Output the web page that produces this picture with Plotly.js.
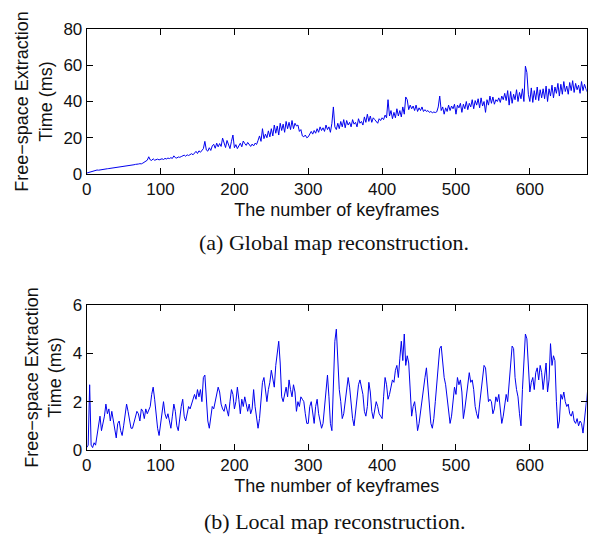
<!DOCTYPE html>
<html>
<head>
<meta charset="utf-8">
<script src="https://cdn.plot.ly/plotly-3.0.1.min.js"></script>
<style>html,body{margin:0;padding:0;background:#fff;}#chart{width:608px;height:540px;}</style>
</head>
<body>
<div id="chart"></div>
<script>
// Keyframe sampling step (values read every 2 keyframes)
const KEYFRAME_STEP = 2;

// (a) Global map reconstruction: free-space extraction time (ms)
const globalTimes = [
 0.5,0.8,1.0,1.3,1.6,1.8,2.0,2.2,2.1,2.3,
 2.4,2.5,2.6,2.7,2.9,3.0,3.1,3.2,3.3,3.4,
 3.5,3.6,3.8,3.9,4.0,4.2,4.4,4.3,4.6,4.7,
 4.9,5.0,5.1,5.3,5.2,5.5,5.7,5.6,6.0,6.4,
 7.0,7.6,9.5,7.8,7.5,8.4,7.6,7.9,8.2,7.8,
 8.1,8.4,8.0,8.6,8.3,8.8,8.5,9.0,8.6,10.0,
 9.0,8.8,9.4,9.2,9.6,9.9,10.4,9.8,10.6,10.2,
 10.8,11.2,10.6,11.9,12.5,11.3,12.8,12.0,13.2,14.0,
 18.0,13.2,12.6,14.5,13.0,15.5,16.4,14.2,17.0,15.0,
 16.8,15.2,19.8,17.0,14.6,18.5,16.0,14.0,18.0,21.5,
 14.5,16.2,14.0,15.8,17.0,15.0,18.2,16.8,15.8,17.4,
 16.0,15.2,16.5,15.5,17.0,16.3,18.5,21.0,18.0,25.0,
 19.5,22.0,20.0,23.8,20.5,25.0,21.0,27.0,22.5,26.5,
 21.5,28.0,24.0,27.5,23.0,29.0,25.0,28.5,24.5,29.5,
 25.0,28.0,26.5,27.0,23.5,24.5,21.0,20.5,21.5,20.0,
 20.5,22.0,23.5,22.0,24.0,22.5,25.0,23.0,26.0,24.0,
 25.5,23.5,27.0,24.5,26.0,23.0,28.0,37.0,26.0,24.5,
 28.0,25.0,29.0,26.0,30.0,25.5,29.5,27.0,28.5,26.0,
 30.0,27.5,28.5,26.0,30.5,28.0,29.0,27.0,31.5,28.5,
 33.0,29.0,32.0,28.5,31.0,30.0,29.0,28.0,30.5,29.5,
 31.0,30.0,32.5,31.0,41.0,32.0,35.0,30.5,34.0,31.0,
 36.0,32.0,35.0,31.5,37.0,33.0,42.5,41.0,35.5,38.0,
 36.0,37.5,35.0,38.0,34.5,36.5,35.0,37.0,34.5,35.5,
 34.5,35.0,34.0,34.5,33.8,34.2,33.9,34.3,37.0,43.0,
 35.0,37.0,33.0,36.5,34.5,38.0,35.0,37.5,36.0,38.5,
 33.0,38.0,36.5,39.0,34.0,38.5,36.0,40.0,35.5,39.0,
 37.0,41.0,36.0,40.5,38.0,41.5,36.5,42.0,37.5,40.0,
 34.0,41.0,38.0,43.0,39.0,42.5,38.5,41.0,40.0,42.0,
 39.5,43.0,41.0,44.5,40.5,46.0,38.0,45.5,39.0,44.0,
 41.0,46.5,40.0,45.0,41.5,47.0,40.0,59.5,56.0,44.0,
 40.0,47.5,39.5,46.0,41.0,48.0,40.5,46.5,42.0,47.0,
 41.5,48.5,40.0,47.0,43.0,49.0,42.0,48.0,44.5,50.0,
 43.0,49.5,44.0,51.0,45.5,48.5,44.0,50.5,46.0,51.5,
 45.0,50.0,46.5,49.0,44.5,51.0,46.0,49.5,47.0,45.0
];

// (b) Local map reconstruction: free-space extraction time (ms)
const localTimes = [
 0.1,0.2,2.7,0.2,0.1,0.3,0.2,0.6,1.0,1.4,
 0.8,1.1,1.4,1.9,1.5,1.7,1.2,1.6,1.2,0.9,
 0.5,1.1,1.2,0.8,0.6,1.0,1.5,1.9,1.6,1.2,
 0.9,0.9,1.1,1.3,1.6,1.5,1.2,1.7,1.6,1.3,
 1.7,1.5,1.7,1.8,2.3,2.6,2.1,1.3,0.9,0.6,
 1.1,1.7,2.0,1.5,1.3,1.5,1.1,0.9,1.4,1.9,
 1.6,1.0,0.8,1.4,1.8,2.1,1.4,1.2,1.5,1.8,
 1.7,1.9,2.0,2.3,2.1,2.5,2.2,2.5,2.0,3.0,
 3.1,2.0,1.2,0.9,1.5,1.8,1.7,2.0,2.2,2.6,
 2.4,1.9,1.7,1.6,1.9,1.6,1.4,2.0,2.5,2.3,
 1.7,2.0,2.6,2.1,1.5,2.1,1.8,2.2,1.9,1.6,
 1.9,1.5,1.7,2.5,1.8,1.2,0.9,1.3,2.1,2.8,
 3.0,2.6,2.0,2.5,2.8,3.3,3.0,2.6,3.5,4.0,
 4.5,3.6,2.2,2.0,2.4,2.6,2.2,2.9,2.5,2.2,
 2.7,2.4,1.6,2.0,1.8,2.2,2.1,2.0,1.5,1.1,
 1.1,1.8,2.0,1.4,1.1,1.8,2.1,1.5,1.1,0.9,
 1.1,1.8,2.6,3.1,2.2,1.1,0.8,3.0,4.5,5.0,
 3.5,2.5,2.0,1.3,1.5,2.0,2.6,3.0,2.6,1.8,
 1.3,1.0,1.5,2.2,2.7,2.9,2.6,2.3,1.6,1.4,
 1.8,2.8,2.4,1.6,1.3,1.6,2.0,1.8,1.5,1.4,
 1.3,2.2,3.0,2.7,2.1,2.3,2.6,2.9,2.8,3.3,
 3.5,3.0,3.8,4.5,3.7,4.8,3.5,3.9,3.6,2.5,
 1.4,1.8,2.0,1.5,0.8,1.1,1.6,2.2,2.5,3.0,
 3.4,2.5,1.6,1.1,0.9,1.3,2.0,2.8,3.5,4.2,
 4.3,3.6,3.0,2.7,2.2,1.6,1.1,1.4,2.1,2.6,
 2.3,3.0,2.7,2.9,2.4,1.3,1.7,2.3,2.7,3.2,
 2.8,2.9,2.5,1.8,1.5,1.3,1.9,2.4,3.0,3.5,
 3.4,2.6,2.0,2.1,2.0,1.5,1.7,2.2,2.0,2.3,
 1.7,1.1,1.4,1.8,2.3,2.0,2.8,3.9,4.3,4.2,
 3.0,2.5,2.2,1.5,1.0,2.5,4.0,4.8,4.6,3.5,
 2.4,2.8,3.0,2.5,3.2,3.4,2.9,3.5,3.2,2.5,
 3.0,3.6,2.4,2.9,4.4,3.5,3.9,3.7,2.0,0.9,
 1.2,2.3,2.1,2.4,2.0,1.8,1.9,1.5,1.4,1.6,
 1.2,1.1,1.3,1.0,1.2,1.1,0.7,1.3,2.0,2.4
];

const xTickVals = [0, 100, 200, 300, 400, 500, 600];
const globalYTicks = [0, 20, 40, 60, 80];
const localYTicks = [0, 2, 4, 6];
const xTitle = 'The number of keyframes';
const yTitle = 'Free\u2212space Extraction<br>Time (ms)';
const captionA = '(a) Global map reconstruction.';
const captionB = '(b) Local map reconstruction.';

const keyframesA = globalTimes.map((_, i) => i * KEYFRAME_STEP);
const keyframesB = localTimes.map((_, i) => i * KEYFRAME_STEP);

const lineStyle = {color: '#0000ee', width: 1};
const traces = [
  {x: keyframesA, y: globalTimes, type: 'scatter', mode: 'lines', line: lineStyle, xaxis: 'x', yaxis: 'y', hoverinfo: 'skip'},
  {x: keyframesB, y: localTimes, type: 'scatter', mode: 'lines', line: lineStyle, xaxis: 'x2', yaxis: 'y2', hoverinfo: 'skip'}
];

const W = 608, H = 540;
const xDom = [86.7 / W, 586.7 / W];
const axisCommon = {
  showline: true, linecolor: '#000', linewidth: 1, mirror: 'ticks',
  ticks: 'inside', ticklen: 6, tickcolor: '#000', tickwidth: 1,
  showgrid: false, zeroline: false,
  tickfont: {family: 'Liberation Sans, Arial, sans-serif', size: 17, color: '#111'}
};
const titleFont = {family: 'Liberation Sans, Arial, sans-serif', size: 18, color: '#111'};
const captionFont = {family: 'Liberation Serif, Times New Roman, serif', size: 22, color: '#111'};

const layout = {
  width: W, height: H,
  margin: {l: 0, r: 0, t: 0, b: 0},
  paper_bgcolor: '#fff', plot_bgcolor: '#fff',
  showlegend: false,
  xaxis: Object.assign({}, axisCommon, {domain: xDom, anchor: 'y', range: [0, 677], tickvals: xTickVals,
    title: {text: xTitle, font: titleFont, standoff: 4}}),
  yaxis: Object.assign({}, axisCommon, {domain: [1 - 174 / H, 1 - 29 / H], anchor: 'x', range: [0, 80], tickvals: globalYTicks,
    title: {text: yTitle, font: titleFont, standoff: 6}}),
  xaxis2: Object.assign({}, axisCommon, {domain: xDom, anchor: 'y2', range: [0, 677], tickvals: xTickVals,
    title: {text: xTitle, font: titleFont, standoff: 4}}),
  yaxis2: Object.assign({}, axisCommon, {domain: [1 - 450 / H, 1 - 305 / H], anchor: 'x2', range: [0, 6], tickvals: localYTicks,
    title: {text: yTitle, font: titleFont, standoff: 6}}),
  annotations: [
    {text: captionA, xref: 'paper', yref: 'paper', x: 334 / W, y: 1 - 242 / H, xanchor: 'center', yanchor: 'middle', showarrow: false, font: captionFont},
    {text: captionB, xref: 'paper', yref: 'paper', x: 334 / W, y: 1 - 521 / H, xanchor: 'center', yanchor: 'middle', showarrow: false, font: captionFont}
  ]
};

Plotly.newPlot('chart', traces, layout, {staticPlot: true, displayModeBar: false});
</script>
</body>
</html>
